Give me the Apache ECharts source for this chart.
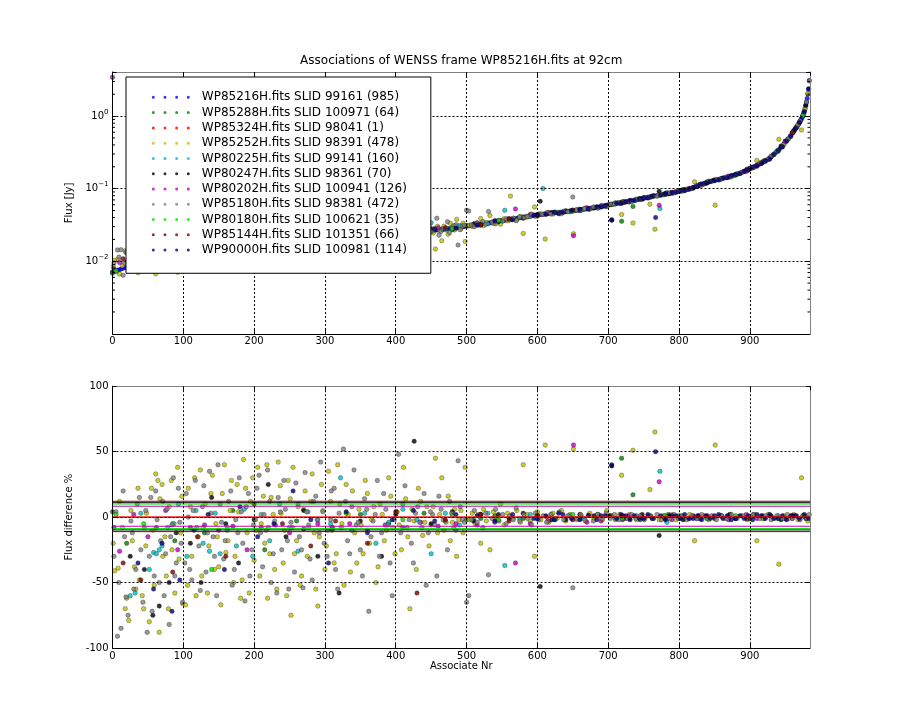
<!DOCTYPE html>
<html><head><meta charset="utf-8">
<script src="https://cdn.jsdelivr.net/npm/echarts@6/dist/echarts.min.js"></script>
<style>html,body{margin:0;padding:0;background:#fff}#c{width:900px;height:720px}</style>
</head><body><div id="c"></div>
<script>
const FONT = 'DejaVu Sans';
const titleText = 'Associations of WENSS frame WP85216H.fits at 92cm';
const xName = 'Associate Nr';
const yNameTop = 'Flux [Jy]';
const yNameBottom = 'Flux difference %';

const seriesNames = [
  'WP85216H.fits SLID 99161 (985)',
  'WP85288H.fits SLID 100971 (64)',
  'WP85324H.fits SLID 98041 (1)',
  'WP85252H.fits SLID 98391 (478)',
  'WP80225H.fits SLID 99141 (160)',
  'WP80247H.fits SLID 98361 (70)',
  'WP80202H.fits SLID 100941 (126)',
  'WP85180H.fits SLID 98381 (472)',
  'WP80180H.fits SLID 100621 (35)',
  'WP85144H.fits SLID 101351 (66)',
  'WP90000H.fits SLID 100981 (114)'
];
const seriesColors = ['#0000ff','#008000','#ff0000','#bfbf00','#00bfbf','#000000','#bf00bf','#808080','#00e000','#800000','#000080'];

// main source list: [associate nr, flux Jy]
const mainPts = [
[0,.0071],[3,.0073],[6,.0075],[9,.0076],[12,.0078],[15,.0080],[18,.0082],
[24,.0084],[30,.0087],[36,.0089],[42,.0092],[48,.0095],[54,.0097],[60,.0100],[66,.0103],[72,.0106],[78,.0108],[84,.0111],[90,.0114],[96,.0116],
[102,.0119],[108,.0121],[114,.0123],[120,.0125],[126,.0127],[132,.0129],[138,.0131],[144,.0133],[150,.0135],[156,.0137],[162,.0139],[168,.0141],
[174,.0143],[180,.0145],[186,.0147],[192,.0149],[198,.0151],[204,.0153],[210,.0155],[216,.0157],[222,.0159],[228,.0161],[234,.0163],[240,.0165],
[246,.0167],[252,.0169],[258,.0171],[264,.0173],[270,.0175],[276,.0177],[282,.0179],[288,.0181],[294,.0183],[300,.0185],[306,.0187],[312,.0189],
[318,.0191],[324,.0193],[330,.0195],[336,.0197],[342,.0199],[348,.0202],[354,.0205],[360,.0207],[366,.0210],[372,.0213],[378,.0216],[384,.0219],
[390,.0222],[396,.0225],[402,.0228],[408,.0231],[414,.0235],[420,.0239],[426,.0243],[432,.0248],[438,.0253],[444,.0259],
[450,.0265],[453,.0267],[456,.0268],[459,.0270],[462,.0272],[465,.0274],[468,.0276],[471,.0279],[474,.0280],[477,.0282],[480,.0285],[483,.0287],
[486,.0290],[489,.0293],[492,.0296],[495,.0299],[498,.0302],[501,.0305],[504,.0308],[507,.0311],[510,.0314],[513,.0317],[516,.0320],[519,.0323],
[522,.0326],[525,.0329],[528,.0332],[531,.0336],[534,.0340],[537,.0344],[540,.0348],[543,.0352],[546,.0356],[549,.0360],[552,.0364],[555,.0368],
[558,.0372],[561,.0376],[564,.0380],[567,.0385],[570,.0389],[573,.0393],[576,.0398],[579,.0403],[582,.0407],[585,.0412],[588,.0417],[591,.0421],
[594,.0426],[597,.0431],[600,.0435],[603,.0439],[606,.0442],[609,.0446],[612,.0449],[615,.0453],[618,.0457],[621,.0460],[624,.0464],[627,.0467],
[630,.0470],[633,.0474],[636,.0478],[639,.0482],[642,.0486],[645,.0490],[648,.0494],[651,.0498],[654,.0502],[657,.0506],[660,.0510],[663,.0515],
[666,.0520],[669,.0525],[672,.0531],[675,.0536],[678,.0542],[681,.0548],[684,.0553],[687,.0558],[690,.0564],[693,.0574],[696,.0585],[699,.0597],
[702,.0604],[705,.0611],[708,.0618],[711,.0625],[714,.0632],[717,.0639],[720,.0646],[723,.0653],[726,.0660],[729,.0667],[732,.0676],[735,.0686],
[738,.0696],[741,.0706],[744,.0716],[747,.0727],[750,.0738],[753,.0749],[756,.0760],[759,.0771],[762,.0781],[765,.0791],[768,.0801],[771,.0811],
[774,.0821],[777,.0831],[780,.0841],[783,.0853],[786,.0865],[789,.0877],[792,.0889],[795,.0901],[798,.0913],[801,.0926],[804,.0940],[807,.0954],
[810,.0968],[813,.0983],[816,.0999],[819,.1025],[822,.1053],[825,.1081],[828,.1110],[831,.1138],[834,.1165],[837,.1192],[840,.1219],[843,.1246],
[846,.1272],[849,.1300],[852,.1315],[855,.1338],[858,.1360],[861,.1383],[864,.1407],[867,.1432],[870,.1458],[873,.1486],[876,.1515],[879,.1548],
[882,.1585],[885,.1625],[888,.1668],[891,.1715],[894,.1765],[897,.1820],[900,.1880],[903,.1940],[906,.2005],[909,.2075],[912,.2150],[915,.2230],
[918,.2310],[921,.2395],[924,.2485],[927,.2600],[930,.2760],[933,.2930],[936,.3110],[939,.3310],[942,.3530],[945,.3780],[948,.4100],[951,.4450],
[954,.4850],[957,.5300],[960,.585],[961,.605],[962,.625],[963,.645],[964,.665],[965,.685],[966,.705],[967,.728],[968,.752],[969,.780],[970,.810],
[971,.845],[972,.880],[973,.920],[974,.965],[975,1.02],[976,1.09],[977,1.17],[978,1.27],[979,1.40],[980,1.55],[981,1.75],[982,2.00],[983,2.35],[984,3.10]
];

// associated sources: [associate nr, flux difference %]
const greenPts = [[0,4],[20,-20],[62,-8],[88,-18],[130,-12],[170,5],[215,-25],[260,-3],[310,-10],[350,2],[390,-5],[440,3],
[500,-2],[520,-1],[540,1],[580,-1],[600,2],[620,2],[660,-1],[705,1],[719,45],[735,17],[745,-2],[760,1],[785,2],[800,-1],[825,-1],[860,1],
[870,1],[905,2],[920,-1],[950,-1],[975,1]];
const redPts = [[613,0]];
const yellowPts = [[3,-41],[8,-39],[14,-8],[20,-62],[23,-79],[28,-18],[33,-55],[38,-48],[44,-70],[48,3],[52,-80],[57,-10],[61,33],[64,28],[67,14],
[71,-30],[76,-45],[80,8],[84,-25],[88,-58],[92,38],[96,-12],[99,-66],[103,-67],[107,22],[112,-30],[116,30],[121,-15],[126,-45],[131,10],[136,-22],
[141,32],[146,-5],[150,-38],[155,18],[160,-27],[166,5],[171,-50],[176,25],[181,-62],[185,44],[190,-12],[195,12],[200,-33],[205,38],[210,-5],
[215,-20],[219,-62],[224,15],[229,-40],[234,42],[238,3],[243,-10],[248,28],[252,-75],[257,-28],[262,8],[267,-45],[272,20],[277,-8],[282,33],
[287,-55],[292,-15],[297,5],[302,-22],[308,12],[313,-35],[318,40],[324,-5],[330,25],[336,-42],[342,-12],[348,6],[354,-28],[360,18],[366,-2],
[372,-50],[378,10],[384,-18],[390,30],[396,-8],[402,4],[408,-25],[414,14],[420,-70],[426,-3],[432,22],[438,-14],[444,8],[450,-6],[456,45],
[462,2],[468,-10],[474,16],[480,-4],[486,-30],[492,5],[498,38],[504,-2],[508,3],[512,-5],[516,2],[520,-20],[524,6],[528,-3],[533,-25],[538,4],
[543,-2],[548,10],[553,-6],[558,3],[562,-110],[566,-1],[571,5],[576,-4],[580,40],[585,2],[590,-3],[596,-30],[600,4],[605,-2],[611,55],[616,-4],
[622,3],[628,-1],[634,5],[640,-3],[646,2],[651,52],[656,-2],[662,1],[668,-3],[674,3],[680,-1],[686,2],[692,-2],[698,5],[704,1],[710,-2],[716,2],
[719,32],[725,-1],[730,2],[735,51],[740,-2],[746,1],[752,-1],[759,21],[766,65],[772,-2],[778,1],[784,-1],[790,2],[796,-2],[802,1],[808,-1],
[815,2],[822,-18],[828,-1],[835,1],[842,-2],[851,55],[858,1],[865,-1],[872,2],[880,-1],[888,1],[896,-2],[904,1],[910,-18],[918,-1],[926,2],
[934,-1],[941,-36],[948,1],[955,-1],[962,2],[968,-2],[973,30],[978,1],[982,-3],
[1,-20],[10,12],[18,-70],[26,5],[31,-38],[36,22],[42,-60],[47,-22],[55,22],[59,-52],[66,-88],[70,25],[74,-15],[79,-70],[83,28],[87,-5],
[94,-32],[98,16],[106,-52],[110,8],[118,-60],[124,36],[128,-8],[134,-58],[139,18],[144,-40],[148,-15],[153,-67],[158,40],[163,-18],[168,28],
[173,-30],[178,4],[183,-48],[188,22],[193,-58],[198,30],[203,-10],[208,-45],[213,16],[218,40],[222,-28],[227,2],[232,-55],[237,24],[241,-35],
[246,-60],[251,14],[255,38],[260,-18],[265,-52],[270,6],[275,-30],[280,12],[285,-12],[290,-68],[295,25],[300,-40],[305,35],[311,-8],[316,-28],
[321,10],[327,-52],[333,2],[339,20],[345,-35],[351,-6],[357,28],[363,-20],[369,8],[375,-38],[381,2],[387,-10],[393,16],[399,-28],[405,-6],
[411,38],[417,-15],[423,6],[429,-40],[435,12],[441,-4],[447,-22],[453,8],[459,-12],[465,30],[471,-4],[477,-18],[483,6],[489,-2],[495,-12]];
const cyanPts = [[25,-60],[32,-58],[40,3],[52,-40],[58,-27],[62,-28],[66,-25],[70,-22],[78,-8],[85,-5],[93,10],[105,-30],[118,5],[128,-20],
[137,-26],[145,3],[152,-28],[162,-10],[175,-22],[186,6],[198,-30],[210,2],[222,-18],[236,10],[250,-8],[262,-26],[276,4],[290,-2],[308,-5],
[322,30],[338,-10],[356,3],[372,-20],[390,-4],[410,6],[430,-2],[450,-28],[470,3],[490,-6],[510,-2],[530,3],[554,-37],[575,-1],[590,2],[608,-125],
[625,-2],[645,1],[665,-1],[685,2],[710,-1],[740,1],[773,35],[783,-4],[800,1],[830,-1],[860,1],[900,-1],[940,1]];
const blackPts = [[25,-30],[45,-40],[57,-75],[66,-68],[80,-50],[90,-12],[110,-20],[125,-50],[140,15],[160,-5],[178,-35],[200,-2],[220,25],
[245,-15],[270,5],[290,-30],[320,-58],[350,-3],[380,-30],[400,2],[426,58],[450,-5],[480,4],[510,-3],[520,2],[545,2],[560,-1],[580,3],[604,-53],
[620,-2],[640,-2],[660,2],[680,1],[702,1],[705,39],[722,-1],[730,-1],[748,2],[764,-1],[772,-14],[786,1],[806,-2],[820,1],[828,1],[850,-1],
[872,2],[880,-1],[896,-1],[918,1],[930,1],[944,-2],[962,1],[979,-1]];
const magentaPts = [[0,-48000],[2,-8],[10,-26],[30,2],[50,-15],[75,5],[92,-25],[110,-8],[130,-6],[150,-10],[170,-7],[190,-25],[210,-8],[230,-6],
[250,-12],[270,-9],[290,-5],[310,-8],[335,-5],[360,-10],[385,-6],[410,-8],[435,-4],[460,-7],[485,-5],[515,-6],[540,-4],[569,-35],[590,-5],
[615,-3],[651,55],[670,-4],[690,-3],[720,-2],[730,1],[750,-1],[772,27],[790,-2],[815,-1],[830,-1],[870,-2],[895,2],[910,-1],[950,-1],[960,-1]];
const greyPts = [[5,4],[7,-91],[12,-85],[17,-15],[19,-61],[26,-3],[30,-55],[35,10],[40,-25],[45,-8],[49,-88],[54,15],[59,-45],[63,-2],[68,-18],
[73,-60],[77,6],[82,-15],[86,30],[90,-35],[95,-4],[99,-65],[104,18],[109,-40],[114,5],[119,-8],[124,-56],[129,24],[134,-12],[139,3],[144,-30],
[149,40],[154,-4],[159,-18],[164,12],[169,-52],[174,-2],[179,30],[184,-20],[189,8],[194,-45],[199,-6],[204,22],[209,-12],[214,2],[219,36],
[224,-50],[229,-3],[234,15],[239,-25],[244,6],[249,-55],[254,-8],[259,26],[264,-15],[269,-54],[274,4],[279,-32],[284,12],[289,-2],[294,42],
[299,-20],[304,-10],[309,20],[315,-40],[320,3],[326,52],[332,-18],[338,8],[344,-6],[350,-25],[356,14],[362,-72],[368,-3],[374,28],[380,-12],
[386,6],[392,-35],[398,-2],[404,48],[410,10],[416,-8],[422,-20],[428,3],[434,-4],[440,18],[446,-12],[452,2],[458,-45],[464,6],[470,-3],[476,12],
[482,-8],[488,43],[494,-2],[500,-65],[503,-60],[507,-2],[511,5],[515,-4],[519,2],[523,-8],[527,3],[531,-44],[536,-1],[541,6],[546,-3],[551,2],
[556,-5],[561,1],[566,-2],[570,7],[575,-3],[581,2],[586,-1],[592,-6],[597,3],[602,-2],[608,1],[613,-4],[619,2],[625,-1],[631,4],[637,-2],[643,1],
[650,-54],[655,-1],[661,2],[667,-2],[673,1],[679,-3],[685,2],[691,-1],[697,3],[703,-1],[709,2],[715,-2],[721,1],[727,-1],[733,2],[739,-1],
[745,1],[751,-2],[757,1],[763,-1],[769,2],[775,-2],[781,1],[787,-1],[793,2],[799,-1],[805,1],[811,-2],[818,1],[825,-1],[832,2],[839,-1],[846,1],
[853,-2],[860,1],[867,-1],[874,2],[882,-1],[890,1],[898,-1],[906,2],[914,-1],[922,1],[930,-2],[938,1],[946,-1],[953,2],[960,-1],[966,1],[971,-2],
[976,1],[980,-1],[984,2],
[2,-30],[9,-50],[15,20],[22,-75],[28,-12],[33,-40],[38,15],[43,-65],[47,5],[52,-30],[56,-72],[61,20],[66,-50],[71,12],[75,-28],[80,-82],
[84,-6],[88,-45],[93,22],[97,-20],[102,-35],[107,0],[112,-48],[117,28],[122,-22],[127,8],[132,-42],[137,35],[142,-15],[147,-60],[152,10],
[157,-32],[162,-8],[167,20],[172,-40],[177,-12],[182,4],[187,-64],[192,18],[197,-25],[202,-2],[207,32],[212,-38],[217,-10],[222,12],[227,-28],
[232,-58],[237,4],[242,28],[247,-18],[252,-4],[257,-42],[262,10],[267,-25],[272,34],[277,-6],[282,-48],[287,16],[292,-12],[297,4],[303,-30],
[308,-2],[313,22],[318,-55],[323,-8],[329,12],[335,-28],[341,36],[347,-4],[353,-45],[359,6],[365,-15],[371,2],[377,-30],[383,18],[389,-6],
[395,-60],[401,4],[407,-12],[413,24],[419,-2],[425,-35],[431,8],[437,-8],[443,-52],[449,4],[455,-6],[461,16],[467,-2],[473,-25],[479,3],
[485,-10],[491,8],[497,-4]];
const limePts = [[5,2],[44,-5],[140,-40],[220,-8],[330,3],[410,-2],[480,1],[545,-2],[600,1],[650,2],[720,-1],[780,1],[840,-1],[880,1],[940,-1],[975,1]];
const maroonPts = [[15,-35],[40,-48],[85,-42],[120,-15],[160,-30],[200,10],[240,-5],[280,-22],[315,-3],[360,-20],[400,4],[430,-58],[470,-2],
[520,2],[560,-3],[600,1],[650,-2],[720,1],[780,-1],[840,1],[900,-1],[960,1]];
const navyPts = [[36,-35],[58,-55],[70,-20],[84,-72],[95,-48],[115,-10],[135,2],[158,-40],[180,8],[205,-15],[228,-5],[255,20],[280,-2],
[305,-35],[330,4],[360,-12],[395,-2],[425,5],[455,-3],[485,2],[515,1],[540,-3],[565,2],[595,-1],[630,3],[660,-2],[690,1],[705,40],[725,1],
[750,-1],[767,50],[790,1],[820,-1],[850,1],[880,-1],[910,2],[940,-1],[965,1],
[600,-1.5],[612,1],[624,-2],[636,2],[648,-1],[672,1.5],[684,-2],[696,1],[712,-1],[718,2],[731,-2],[737,1],[744,-1],[756,2],[762,-1],[774,1],
[781,-2],[796,1],[802,-1],[808,2],[814,-1],[826,1],[832,-2],[838,1],[844,-1],[856,2],[862,-1],[868,1],[874,-2],[886,1],[892,-1],[898,1],
[904,-2],[916,1],[922,-1],[928,2],[934,-1],[946,1],[952,-2],[958,1],[970,-1],[977,2],[983,-1]];

const assocPts = [null, greenPts, redPts, yellowPts, cyanPts, blackPts, magentaPts, greyPts, limePts, maroonPts, navyPts];
// horizontal reference levels (%) per series
const bandUpper = [null, null, 0, null, null, 11.0, 8.3, null, 10.0, 12.1, null];
const bandLower = [null, null, 0, null, null, -9.8, -7.0, null, -8.8, -11.1, null];

const xMin = 0, xMax = 985, xStep = 100;
const yTopMin = 0.001, yTopMax = 4.05;
const yBotMin = -100, yBotMax = 100, yBotStep = 50;
const minorTickVals = [0.002,0.003,0.004,0.005,0.006,0.007,0.008,0.009,0.02,0.03,0.04,0.05,0.06,0.07,0.08,0.09,0.2,0.3,0.4,0.5,0.6,0.7,0.8,0.9,2,3,4];

function fluxAt(i) {
  let best = mainPts[0], bd = Infinity;
  for (const p of mainPts) { const d = Math.abs(p[0] - i); if (d < bd) { bd = d; best = p; } }
  return best[1];
}

const chart = echarts.init(document.getElementById('c'), null, {renderer: 'canvas'});
const G0 = {left: 112.5, top: 72, width: 697.5, height: 261.8};
const G1 = {left: 112.5, top: 386.2, width: 697.5, height: 261.8};
const dotted = {show: true, lineStyle: {color: '#000', width: 1, type: [2, 2]}};
const tick = {show: true, inside: true, length: 4, lineStyle: {color: '#000', width: 1}};
const lbl = {color: '#000', fontFamily: FONT, fontSize: 10};

function xAxes(gi, withName) {
  return [
    {gridIndex: gi, type: 'value', min: xMin, max: xMax, interval: xStep, position: 'bottom', z: 5,
     axisLine: {show: true, onZero: false, lineStyle: {color: '#000', width: 1}}, axisTick: tick,
     axisLabel: Object.assign({margin: 3, showMaxLabel: false}, lbl), splitLine: dotted,
     name: withName ? xName : '', nameLocation: 'middle', nameGap: 13,
     nameTextStyle: {color: '#000', fontFamily: FONT, fontSize: 10}},
    {gridIndex: gi, type: 'value', min: xMin, max: xMax, interval: xStep, position: 'top', z: 5,
     axisLine: {show: true, onZero: false, lineStyle: {color: '#808080', width: 1}}, axisTick: tick,
     axisLabel: {show: false}, splitLine: {show: false}}
  ];
}

const supFmt = (v) => {
  const e = Math.log10(v), r = Math.round(e);
  if (Math.abs(e - r) > 1e-6 || r < -2) return '';
  return '{a|10}{b|' + (r < 0 ? '\u2212' + (-r) : r) + '}';
};

const yAxes = [
  {gridIndex: 0, type: 'log', logBase: 10, min: yTopMin, max: yTopMax, position: 'left', z: 5,
   axisLine: {show: true, onZero: false, lineStyle: {color: '#000', width: 1}}, axisTick: tick,
   axisLabel: {margin: 4, formatter: supFmt, color: '#000',
     rich: {a: {fontFamily: FONT, fontSize: 10, color: '#000'}, b: {fontFamily: FONT, fontSize: 7, color: '#000', padding: [0, 0, 8, 0]}}},
   splitLine: dotted, minorTick: {show: false},
   name: yNameTop, nameLocation: 'middle', nameGap: 23, nameRotate: 90,
   nameTextStyle: {color: '#000', fontFamily: FONT, fontSize: 10}},
  {gridIndex: 0, type: 'log', logBase: 10, min: yTopMin, max: yTopMax, position: 'right', z: 5,
   axisLine: {show: true, onZero: false, lineStyle: {color: '#808080', width: 1}}, axisTick: tick,
   axisLabel: {show: false}, splitLine: {show: false}},
  {gridIndex: 1, type: 'value', min: yBotMin, max: yBotMax, interval: yBotStep, position: 'left', z: 5,
   axisLine: {show: true, onZero: false, lineStyle: {color: '#000', width: 1}}, axisTick: tick,
   axisLabel: Object.assign({margin: 4}, lbl), splitLine: dotted,
   name: yNameBottom, nameLocation: 'middle', nameGap: 27, nameRotate: 90,
   nameTextStyle: {color: '#000', fontFamily: FONT, fontSize: 10}},
  {gridIndex: 1, type: 'value', min: yBotMin, max: yBotMax, interval: yBotStep, position: 'right', z: 5,
   axisLine: {show: true, onZero: false, lineStyle: {color: '#808080', width: 1}}, axisTick: tick,
   axisLabel: {show: false}, splitLine: {show: false}}
];

const markStyle = (k) => ({color: seriesColors[k], borderColor: 'rgba(0,0,0,0.7)', borderWidth: 0.5});
const SYM = 4.5;
const series = [];
// top panel
for (let k = 0; k < seriesNames.length; k++) {
  let data;
  if (k === 0) data = mainPts;
  else data = assocPts[k].map(([i, d]) => [i, fluxAt(i) * (1 - d / 100)]).filter(p => p[1] > 0);
  series.push({name: seriesNames[k], type: 'scatter', xAxisIndex: 0, yAxisIndex: 0, data,
    symbol: 'circle', symbolSize: SYM, itemStyle: markStyle(k), silent: true, z: 2});
}
// bottom panel
for (let k = 1; k < seriesNames.length; k++) {
  series.push({name: seriesNames[k], type: 'scatter', xAxisIndex: 2, yAxisIndex: 2, data: assocPts[k],
    symbol: 'circle', symbolSize: SYM, itemStyle: markStyle(k), silent: true, z: 2, clip: true});
}
for (let k = 0; k < seriesNames.length; k++) {
  [bandUpper[k], bandLower[k]].forEach((lv, j) => {
    if (lv === null) return;
    series.push({name: seriesNames[k] + ' level ' + j, type: 'line', xAxisIndex: 2, yAxisIndex: 2,
      data: [[xMin, lv], [xMax, lv]], symbol: 'none', silent: true, z: 3,
      lineStyle: {color: seriesColors[k], width: 1}});
  });
}
// log minor ticks (left and right, inward)
series.push({type: 'custom', xAxisIndex: 0, yAxisIndex: 0, silent: true, z: 6,
  data: minorTickVals.map(v => [xMin, v]),
  renderItem: (params, api) => {
    const v = api.value(1);
    const pl = api.coord([xMin, v]), pr = api.coord([xMax, v]);
    return {type: 'group', children: [
      {type: 'line', shape: {x1: pl[0], y1: pl[1], x2: pl[0] + 2.5, y2: pl[1]}, style: {stroke: '#000', lineWidth: 1}},
      {type: 'line', shape: {x1: pr[0], y1: pr[1], x2: pr[0] - 2.5, y2: pr[1]}, style: {stroke: '#000', lineWidth: 1}}
    ]};
  }});

const dotsIcon = 'path://M0,1.5A1.5,1.5 0 1 0 3,1.5A1.5,1.5 0 1 0 0,1.5Z' +
  'M11.67,1.5A1.5,1.5 0 1 0 14.67,1.5A1.5,1.5 0 1 0 11.67,1.5Z' +
  'M23.33,1.5A1.5,1.5 0 1 0 26.33,1.5A1.5,1.5 0 1 0 23.33,1.5Z' +
  'M35,1.5A1.5,1.5 0 1 0 38,1.5A1.5,1.5 0 1 0 35,1.5Z';

chart.setOption({
  animation: false,
  backgroundColor: '#fff',
  title: {text: titleText, left: 461.25, textAlign: 'center', top: 55, padding: 0,
    textStyle: {fontFamily: FONT, fontSize: 12, fontWeight: 'normal', color: '#000'}},
  legend: {data: seriesNames, orient: 'vertical', left: 126, top: 77, padding: [12.7, 24, 15.6, 25.8],
    backgroundColor: '#fff', borderColor: '#000', borderWidth: 1, borderRadius: 0,
    itemWidth: 38, itemHeight: 3.5, itemGap: 0, icon: dotsIcon, selectedMode: false, z: 10,
    itemStyle: {borderWidth: 0},
    textStyle: {fontFamily: FONT, fontSize: 12, color: '#000', lineHeight: 15.27, padding: [0, 0, 0, 7]}},
  grid: [G0, G1],
  xAxis: xAxes(0, false).concat(xAxes(1, true)),
  yAxis: yAxes,
  series
});
</script></body></html>
